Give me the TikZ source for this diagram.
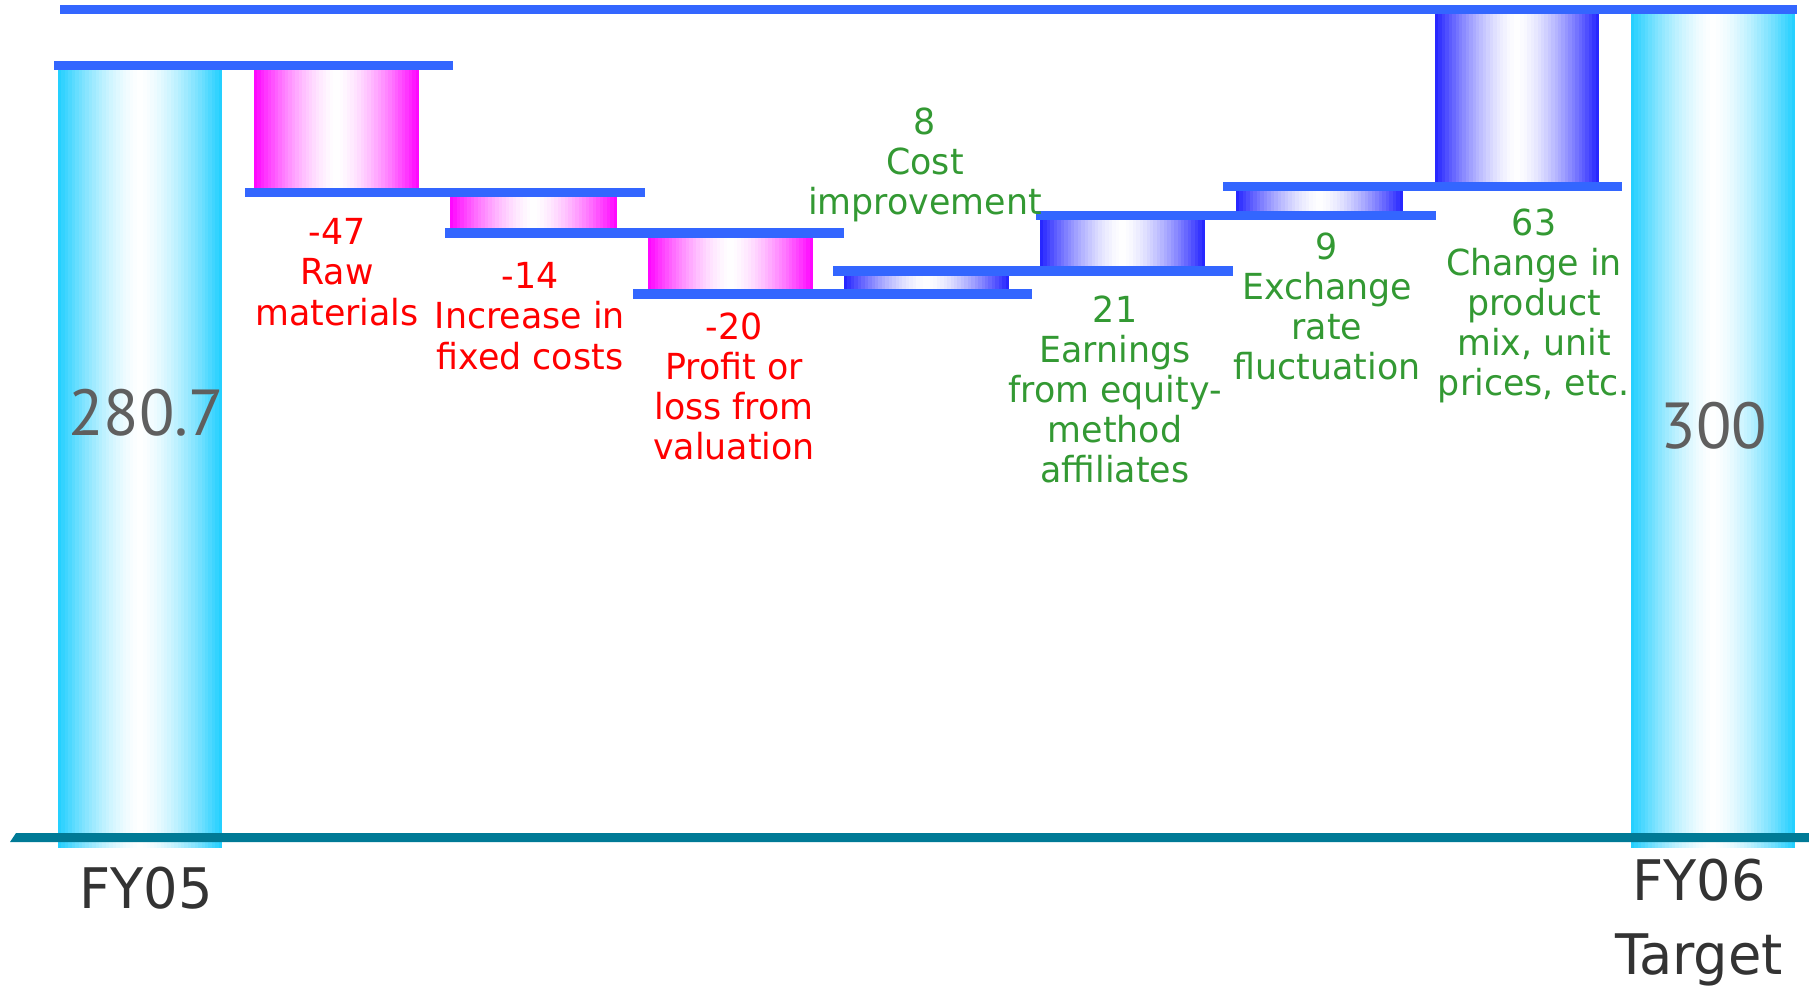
\documentclass[tikz,border=0pt]{standalone}
\usepackage{fontspec}
\setmainfont{DejaVu Sans}[FakeStretch=0.97]
\newfontfamily\totalfont{PT Sans}
\definecolor{bridgeblue}{RGB}{51,102,255}
\definecolor{gainblue}{RGB}{32,32,255}
\definecolor{lossmagenta}{RGB}{255,0,255}
\definecolor{totalcyan}{RGB}{30,206,255}
\definecolor{axisteal}{RGB}{0,122,150}
\definecolor{gaingreen}{RGB}{51,153,51}
\definecolor{totalgray}{RGB}{95,95,95}
\definecolor{yeargray}{RGB}{51,51,51}
\newcommand{\gradbar}[5]{%
  \foreach \k in {0,...,47}{
    \pgfmathsetmacro\mixpct{100*abs(2*(\k+0.5)/48-1)^1.5}
    \pgfmathsetmacro\stripend{min(\k+1.1,48)}
    \fill[#1!\mixpct!white] ({#2+(#4-#2)*\k/48},#3) rectangle ({#2+(#4-#2)*\stripend/48},#5);
  }}
\begin{document}
\begin{tikzpicture}[x=0.01cm,y=-0.01cm,
    bridge/.style={bridgeblue,line width=0.09cm},
    delta/.style={align=center,anchor=north,inner sep=0pt,font=\fontsize{10.2}{11.4}\selectfont},
    losslabel/.style={delta,red},
    gainlabel/.style={delta,gaingreen},
    totallabel/.style={inner sep=0pt,totalgray,font=\totalfont\fontsize{18.5}{20}\selectfont},
    yearlabel/.style={inner sep=0pt,align=center,anchor=base,yeargray,font=\fontsize{15.9}{21}\selectfont}]
      \useasboundingbox (0,0) rectangle (1809,988);
      \gradbar{totalcyan}{58}{70}{222}{848}
      \gradbar{totalcyan}{1631}{14}{1795}{848}
      \gradbar{lossmagenta}{254}{70}{419}{188}
      \gradbar{lossmagenta}{450}{197}{617}{229}
      \gradbar{lossmagenta}{648}{237}{813}{290}
      \gradbar{gainblue}{844}{275}{1009}{290}
      \gradbar{gainblue}{1040}{220}{1205}{267}
      \gradbar{gainblue}{1236}{191}{1403}{211}
      \gradbar{gainblue}{1435}{14}{1599}{182}
      \draw[bridge] (60,9.5) -- (1797,9.5);
      \draw[bridge] (54,65.5) -- (453,65.5);
      \draw[bridge] (245,192.5) -- (645,192.5);
      \draw[bridge] (445,233) -- (844,233);
      \draw[bridge] (633,294) -- (1032,294);
      \draw[bridge] (833,271) -- (1233,271);
      \draw[bridge] (1036,215.5) -- (1436,215.5);
      \draw[bridge] (1223,186.5) -- (1622,186.5);
      \fill[axisteal] (10,842) -- (16,833) -- (1809,833) -- (1809,842) -- cycle;
      \node[totallabel] (fy05total) at (146,413) {280.7};
      \node[totallabel] (fy06total) at (1714,426) {300};
      \node[yearlabel] (fy05) at (146,908) {FY05};
      \node[yearlabel] (fy06) at (1699,974) {FY06\\Target};
      \node[losslabel] (raw) at (337,218) {-47\\Raw\\materials};
      \node[losslabel] (fixed) at (530,262) {-14\\Increase in\\fixed costs};
      \node[losslabel] (valuation) at (734,312) {-20\\Profit or\\loss from\\valuation};
      \node[gainlabel] (cost) at (925,107) {8\\Cost\\improvement};
      \node[gainlabel] (equity) at (1115,295) {21\\Earnings\\from equity-\\method\\affiliates};
      \node[gainlabel] (exchange) at (1327,232) {9\\Exchange\\rate\\fluctuation};
      \node[gainlabel] (mix) at (1534,208) {63\\Change in\\product\\mix, unit\\prices, etc.};
    \end{tikzpicture}
\end{document}
